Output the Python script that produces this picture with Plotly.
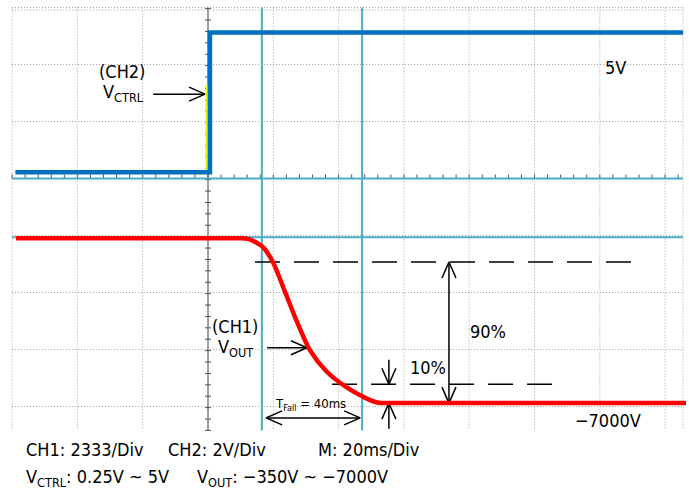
import plotly.graph_objects as go

# ---------------- data (time in ms, 20 ms/div; vertical in screen divisions) ----------------
ctrl_t = [-59.0, 0.6, 0.6, 145.5]          # CH2  V_CTRL step
ctrl_div = [0.11, 0.11, 2.56, 2.56]

glitch_t = [-0.4, -0.4]                     # thin yellow trace on the edge
glitch_div = [1.64, 0.12]

out_t = [-58.8, 8.0, 12.3, 16.8, 19.9, 23.6, 27.3, 31.2, 36.4, 42.6, 47.5, 51.8, 58.0, 146.4]
out_div = [-1.05, -1.05, -1.06, -1.20, -1.47, -1.99, -2.52, -3.01, -3.39, -3.67, -3.83, -3.93, -3.94, -3.94]

cursor_t = [16.5, 47.2]                     # cyan vertical cursors
marker_div = [0.0, -1.03]                   # cyan horizontal markers

level_90_div = -1.465
level_10_div = -3.61
final_div = -3.94
dash90_t = [14.4, 129.9]
dash10_t = [38.0, 106.6]

grid_t = [-60, -40, -20, 0, 20, 40, 60, 80, 100, 120, 140]
grid_div = [3, 2, 1, 0, -1, -2, -3, -4]
screen_t = [-60.0, 145.5]
screen_div = [3.0, -4.42]

# annotation arrows: (x0, y0, x1, y1, heads at 'end'/'both')
arrow_list = [
    (-16.8, 1.48, -0.9, 1.48, "end"),                 # V_CTRL
    (18.1, -2.97, 30.3, -2.97, "end"),                # V_OUT
    (73.8, level_90_div, 73.8, final_div, "both"),    # 90 %
    (55.4, -3.18, 55.4, level_10_div, "end"),         # 10 % down
    (55.4, -4.39, 55.4, final_div, "end"),            # 10 % up
    (17.8, -4.20, 46.6, -4.20, "both"),               # T_fall
]

labels = [
    ("(CH2)", -26.3, 1.88, 18),
    ("V<sub>CTRL</sub>", -26.0, 1.50, 18),
    ("5V", 124.7, 1.94, 18),
    ("(CH1)", 8.3, -2.59, 18),
    ("V<sub>OUT</sub>", 8.3, -2.97, 18),
    ("90%", 85.8, -2.69, 18),
    ("10%", 67.4, -3.31, 18),
    ("\u22127000V", 122.5, -4.25, 18),
    ("T<sub>Fall</sub> = 40ms", 31.5, -3.97, 13),
]

footer = [
    ("CH1: 2333/Div", 24, 449),
    ("CH2: 2V/Div", 166, 449),
    ("M: 20ms/Div", 316, 449),
    ("V<sub>CTRL</sub>: 0.25V ~ 5V", 24, 478),
    ("V<sub>OUT</sub>: \u2212350V ~ \u22127000V", 195, 478),
]

# ---------------- styling ----------------
W, H = 689, 489
PX_X = 65.3 / 20.0   # px per ms
PX_Y = 57.0          # px per division
X_RANGE = [-208 / PX_X, (W - 208) / PX_X]
Y_RANGE = [(178.5 - H) / PX_Y, 178.5 / PX_Y]
FONT = "DejaVu Sans Condensed, Liberation Sans Narrow, DejaVu Sans, sans-serif"
CYAN = "#4BACC6"
BLUE = "#0070C0"
RED = "#FF0000"

fig = go.Figure()


def seg_trace(xs, ys, color, width, dash="solid"):
    fig.add_trace(go.Scatter(x=xs, y=ys, mode="lines", hoverinfo="skip",
                             line=dict(color=color, width=width, dash=dash)))


# dotted grid
gx, gy = [], []
for t in grid_t + [screen_t[1]]:
    gx += [t, t, None]
    gy += [screen_div[0], screen_div[1], None]
for d in grid_div + [screen_div[0] - 0.045]:
    gx += [screen_t[0], screen_t[1], None]
    gy += [d, d, None]
seg_trace(gx, gy, "#a0a0a0", 1, "1px,2px")

# center axis ticks
tx, ty = [], []
d = screen_div[1]
while d <= screen_div[0] + 1e-9:
    tx += [-3 / PX_X, 3 / PX_X, None]
    ty += [d, d, None]
    d += 0.2
seg_trace([0, 0], screen_div, "#505050", 1)
seg_trace(tx, ty, "#505050", 1)
hx, hy = [], []
t = screen_t[0]
while t <= screen_t[1]:
    hx += [t, t, None]
    hy += [0, 4 / PX_Y, None]
    t += 4
seg_trace(hx, hy, "#505050", 1)

# cyan markers and cursors
for m in marker_div:
    seg_trace([screen_t[0], screen_t[1]], [m, m], CYAN, 2)
for c in cursor_t:
    seg_trace([c, c], screen_div, CYAN, 2)

# dashed measurement levels
seg_trace(dash90_t, [level_90_div] * 2, "black", 1.5, "25px,14px")
seg_trace(dash10_t, [level_10_div] * 2, "black", 1.5, "25px,14px")


# arrows with open heads
def head(xt, yt, xf, yf):
    dxp = (xt - xf) * PX_X
    dyp = (yt - yf) * PX_Y
    L = (dxp ** 2 + dyp ** 2) ** 0.5
    ux, uy = dxp / L, dyp / L
    back, side = 16.0, 7.0
    pts = []
    for s in (1, -1):
        px = -ux * back + s * (-uy) * side
        py = -uy * back + s * ux * side
        pts.append((xt + px / PX_X, yt + py / PX_Y))
    return [pts[0][0], xt, pts[1][0], None], [pts[0][1], yt, pts[1][1], None]


ax, ay = [], []
for x0, y0, x1, y1, kind in arrow_list:
    ax += [x0, x1, None]
    ay += [y0, y1, None]
    hx_, hy_ = head(x1, y1, x0, y0)
    ax += hx_
    ay += hy_
    if kind == "both":
        hx_, hy_ = head(x0, y0, x1, y1)
        ax += hx_
        ay += hy_
seg_trace(ax, ay, "black", 1.5)

# waveforms
seg_trace(glitch_t, glitch_div, "#F2F200", 2.5)
fig.add_trace(go.Scatter(x=ctrl_t, y=ctrl_div, mode="lines", hoverinfo="skip",
                         line=dict(color=BLUE, width=4.5)))
fig.add_trace(go.Scatter(x=out_t, y=out_div, mode="lines", hoverinfo="skip",
                         line=dict(color=RED, width=4.5, shape="spline", smoothing=0.8)))

annotations = []
for txt, x, y, size in labels:
    annotations.append(dict(text=txt, x=x, y=y, xref="x", yref="y", showarrow=False,
                            font=dict(family=FONT, size=size, color="black"),
                            xanchor="center", yanchor="middle"))
for txt, xp, yp in footer:
    annotations.append(dict(text=txt, x=xp / W, y=1 - yp / H, xref="paper", yref="paper",
                            showarrow=False, font=dict(family=FONT, size=18, color="black"),
                            xanchor="left", yanchor="middle"))

fig.update_layout(
    width=W, height=H, margin=dict(l=0, r=0, t=0, b=0),
    paper_bgcolor="white", plot_bgcolor="white",
    showlegend=False, hovermode=False,
    xaxis=dict(range=X_RANGE, visible=False, fixedrange=True),
    yaxis=dict(range=Y_RANGE, visible=False, fixedrange=True),
    annotations=annotations,
)

fig.write_html("out.html", config={"displayModeBar": False},
               post_script="document.body.style.margin='0';document.body.style.overflow='hidden';")
